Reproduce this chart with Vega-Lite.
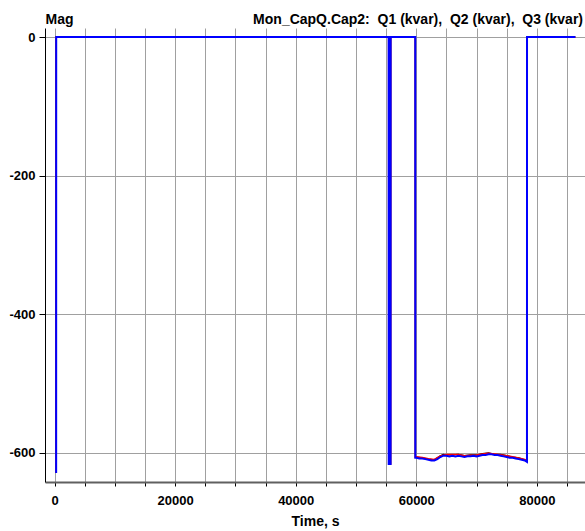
{
  "$schema": "https://vega.github.io/schema/vega-lite/v6.json",
  "width": 540,
  "height": 454,
  "autosize": "none",
  "padding": {"left": 45, "top": 28, "right": 0, "bottom": 49},
  "background": "white",
  "title": {
    "text": "Mon_CapQ.Cap2:\u00a0 Q1 (kvar),\u00a0 Q2 (kvar),\u00a0 Q3 (kvar)",
    "anchor": "end",
    "font": "Liberation Sans",
    "fontSize": 14,
    "fontWeight": "bold",
    "color": "black",
    "offset": 6,
    "dx": -2,
    "dy": 35,
    "baseline": "bottom"
  },
  "config": {
    "view": {"stroke": null},
    "axis": {
      "labelFont": "Liberation Sans",
      "labelFontSize": 13,
      "labelFontWeight": "bold",
      "labelColor": "black",
      "titleFont": "Liberation Sans",
      "titleFontSize": 14,
      "titleFontWeight": "bold",
      "titleColor": "black",
      "gridColor": "#a0a0a0",
      "gridOpacity": 1,
      "gridWidth": 1,
      "tickColor": "black",
      "tickWidth": 1
    }
  },
  "data": {
    "values": [
      {"s": "Q1", "t": 250, "v": -629}, {"s": "Q1", "t": 260, "v": 0}, {"s": "Q1", "t": 55420, "v": 0}, {"s": "Q1", "t": 55430, "v": -616}, {"s": "Q1", "t": 55740, "v": -616}, {"s": "Q1", "t": 55750, "v": 0}, {"s": "Q1", "t": 59840, "v": 0}, {"s": "Q1", "t": 59850, "v": -606},
      {"s": "Q1", "t": 60000, "v": -605.5}, {"s": "Q1", "t": 61000, "v": -606.5}, {"s": "Q1", "t": 62000, "v": -608.5}, {"s": "Q1", "t": 63000, "v": -609.5}, {"s": "Q1", "t": 64000, "v": -604.5}, {"s": "Q1", "t": 65000, "v": -602.5}, {"s": "Q1", "t": 66000, "v": -602.5}, {"s": "Q1", "t": 67000, "v": -602.5}, {"s": "Q1", "t": 68000, "v": -604}, {"s": "Q1", "t": 69000, "v": -603.5}, {"s": "Q1", "t": 70000, "v": -603}, {"s": "Q1", "t": 71000, "v": -601.5}, {"s": "Q1", "t": 72000, "v": -600.5}, {"s": "Q1", "t": 73000, "v": -601.5}, {"s": "Q1", "t": 74000, "v": -602.5}, {"s": "Q1", "t": 75000, "v": -604}, {"s": "Q1", "t": 76000, "v": -605.5}, {"s": "Q1", "t": 77000, "v": -607.5}, {"s": "Q1", "t": 78000, "v": -609.5}, {"s": "Q1", "t": 78370, "v": -611.5}, {"s": "Q1", "t": 78380, "v": 0}, {"s": "Q1", "t": 86400, "v": 0},
      {"s": "Q2", "t": 250, "v": -629}, {"s": "Q2", "t": 260, "v": 0}, {"s": "Q2", "t": 55420, "v": 0}, {"s": "Q2", "t": 55430, "v": -616}, {"s": "Q2", "t": 55740, "v": -616}, {"s": "Q2", "t": 55750, "v": 0}, {"s": "Q2", "t": 59840, "v": 0}, {"s": "Q2", "t": 59850, "v": -606},
      {"s": "Q2", "t": 60000, "v": -606}, {"s": "Q2", "t": 61000, "v": -607}, {"s": "Q2", "t": 62000, "v": -609}, {"s": "Q2", "t": 63000, "v": -610}, {"s": "Q2", "t": 64000, "v": -604}, {"s": "Q2", "t": 64500, "v": -602}, {"s": "Q2", "t": 65000, "v": -603}, {"s": "Q2", "t": 66000, "v": -603}, {"s": "Q2", "t": 67000, "v": -602}, {"s": "Q2", "t": 68000, "v": -604}, {"s": "Q2", "t": 69000, "v": -603}, {"s": "Q2", "t": 70000, "v": -603}, {"s": "Q2", "t": 71000, "v": -601}, {"s": "Q2", "t": 72000, "v": -600}, {"s": "Q2", "t": 73000, "v": -602}, {"s": "Q2", "t": 74000, "v": -602}, {"s": "Q2", "t": 75000, "v": -604}, {"s": "Q2", "t": 76000, "v": -606}, {"s": "Q2", "t": 77000, "v": -607}, {"s": "Q2", "t": 78000, "v": -610}, {"s": "Q2", "t": 78370, "v": -612}, {"s": "Q2", "t": 78380, "v": 0}, {"s": "Q2", "t": 86400, "v": 0},
      {"s": "Q3", "t": 250, "v": -629}, {"s": "Q3", "t": 260, "v": 0}, {"s": "Q3", "t": 55420, "v": 0}, {"s": "Q3", "t": 55430, "v": -616}, {"s": "Q3", "t": 55740, "v": -616}, {"s": "Q3", "t": 55750, "v": 0}, {"s": "Q3", "t": 59840, "v": 0}, {"s": "Q3", "t": 59850, "v": -607},
      {"s": "Q3", "t": 60000, "v": -607}, {"s": "Q3", "t": 60500, "v": -608}, {"s": "Q3", "t": 61000, "v": -608}, {"s": "Q3", "t": 61500, "v": -609}, {"s": "Q3", "t": 62000, "v": -610}, {"s": "Q3", "t": 62500, "v": -611}, {"s": "Q3", "t": 63000, "v": -611}, {"s": "Q3", "t": 63500, "v": -609}, {"s": "Q3", "t": 64000, "v": -606}, {"s": "Q3", "t": 64500, "v": -604}, {"s": "Q3", "t": 65000, "v": -604}, {"s": "Q3", "t": 65500, "v": -605}, {"s": "Q3", "t": 66000, "v": -604}, {"s": "Q3", "t": 66500, "v": -605}, {"s": "Q3", "t": 67000, "v": -604}, {"s": "Q3", "t": 67500, "v": -605}, {"s": "Q3", "t": 68000, "v": -606}, {"s": "Q3", "t": 68500, "v": -605}, {"s": "Q3", "t": 69000, "v": -605}, {"s": "Q3", "t": 69500, "v": -604}, {"s": "Q3", "t": 70000, "v": -605}, {"s": "Q3", "t": 70500, "v": -604}, {"s": "Q3", "t": 71000, "v": -603}, {"s": "Q3", "t": 71500, "v": -603}, {"s": "Q3", "t": 72000, "v": -602}, {"s": "Q3", "t": 72500, "v": -602}, {"s": "Q3", "t": 73000, "v": -603}, {"s": "Q3", "t": 73500, "v": -603}, {"s": "Q3", "t": 74000, "v": -604}, {"s": "Q3", "t": 74500, "v": -605}, {"s": "Q3", "t": 75000, "v": -606}, {"s": "Q3", "t": 75500, "v": -607}, {"s": "Q3", "t": 76000, "v": -607}, {"s": "Q3", "t": 76500, "v": -608}, {"s": "Q3", "t": 77000, "v": -609}, {"s": "Q3", "t": 77500, "v": -610}, {"s": "Q3", "t": 78000, "v": -611}, {"s": "Q3", "t": 78370, "v": -613}, {"s": "Q3", "t": 78380, "v": 0}, {"s": "Q3", "t": 86400, "v": 0}
    ]
  },
  "encoding": {
    "x": {
      "field": "t",
      "type": "quantitative",
      "scale": {"domain": [-1600, 88000], "nice": false, "zero": false},
      "axis": {
        "title": "Time, s",
        "values": [0, 5000, 10000, 15000, 20000, 25000, 30000, 35000, 40000, 45000, 50000, 55000, 60000, 65000, 70000, 75000, 80000, 85000],
        "labelExpr": "datum.value % 20000 === 0 ? format(datum.value, 'd') : ''",
        "grid": true,
        "domainColor": "#606060",
        "domainWidth": 2,
        "tickSize": 4,
        "labelPadding": 8,
        "titlePadding": 7
      }
    },
    "y": {
      "field": "v",
      "type": "quantitative",
      "scale": {"domain": [-642, 13], "nice": false, "zero": false},
      "axis": {
        "title": "Mag",
        "values": [0, -200, -400, -600],
        "labelExpr": "datum.value < 0 ? '-' + format(-datum.value, 'd') : format(datum.value, 'd')",
        "grid": true,
        "domainColor": "black",
        "tickSize": 6,
        "labelPadding": 4,
        "titleAngle": 0,
        "titleAlign": "left",
        "titleBaseline": "alphabetic",
        "titleX": 0,
        "titleY": -5
      }
    }
  },
  "layer": [
    {"transform": [{"filter": "datum.s === 'Q2'"}], "mark": {"type": "line", "color": "#000000", "strokeWidth": 1.2, "clip": true}},
    {"transform": [{"filter": "datum.s === 'Q1'"}], "mark": {"type": "line", "color": "#ff0000", "strokeWidth": 1.5, "clip": true}},
    {"transform": [{"filter": "datum.s === 'Q3'"}], "mark": {"type": "line", "color": "#0000ff", "strokeWidth": 2, "clip": true}}
  ]
}
